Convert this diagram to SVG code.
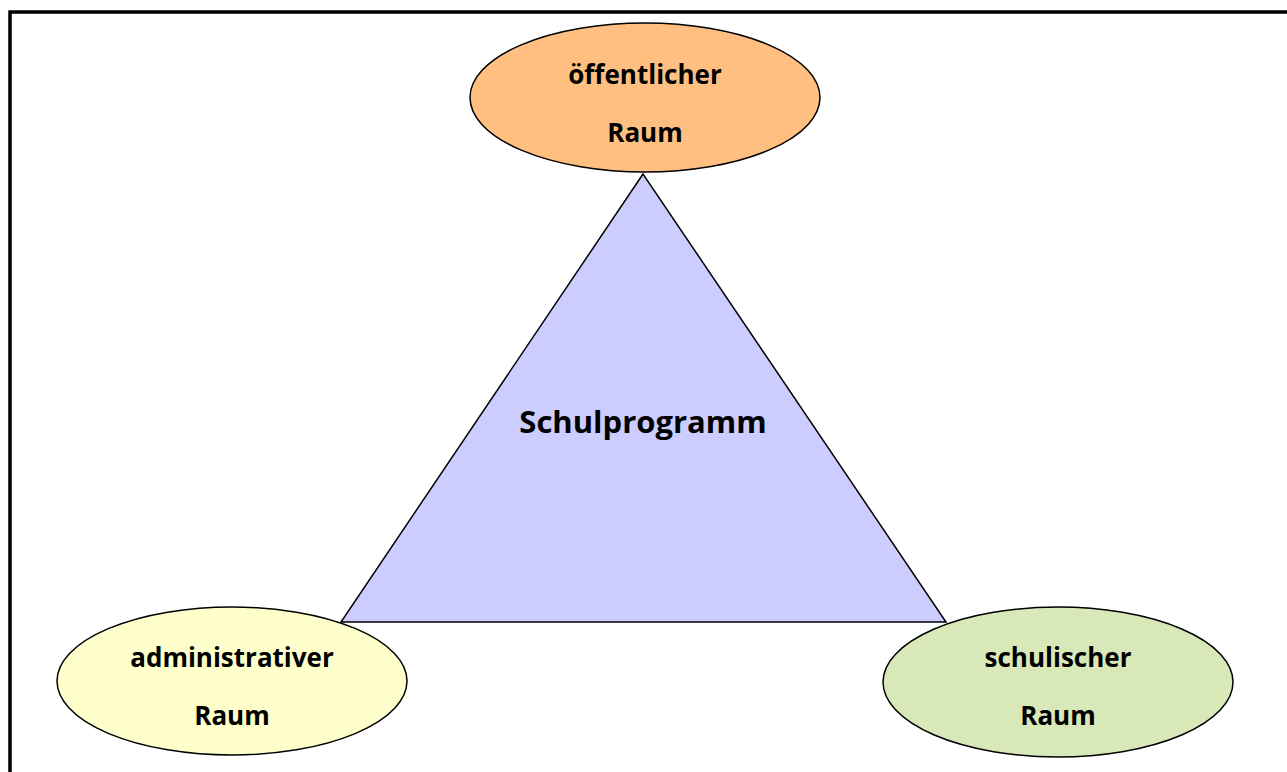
<svg xmlns="http://www.w3.org/2000/svg" width="1287" height="772" viewBox="0 0 1287 772">
<style>
.lbl{font-family:"Open Sans","Liberation Sans",sans-serif;font-weight:bold;font-size:26px;fill:#000;text-anchor:middle}
.big{font-size:31px}
.node{stroke:#000;stroke-width:1.5}
</style>
<rect width="1287" height="772" fill="#fff"/>
<path d="M10,772 V12 H1287" fill="none" stroke="#000" stroke-width="3.5"/>
<g id="connectors"></g>
<g id="schulprogramm">
<polygon points="643,174 341,622 946,622" fill="#CCCCFF" stroke="#000" stroke-width="1.5"/>
<text x="643" y="433" class="lbl big">Schulprogramm</text>
</g>
<g id="oeffentlicher">
<ellipse cx="645" cy="97.5" rx="175" ry="74.5" fill="#FFBF80" class="node"/>
<text x="645" y="84" class="lbl">öffentlicher</text>
<text x="645" y="142" class="lbl">Raum</text>
</g>
<g id="administrativer">
<ellipse cx="232" cy="681" rx="175" ry="74" fill="#FFFFCC" class="node"/>
<text x="232" y="667" class="lbl">administrativer</text>
<text x="232" y="725" class="lbl">Raum</text>
</g>
<g id="schulischer">
<ellipse cx="1058" cy="682" rx="175" ry="75" fill="#D8E8B8" class="node"/>
<text x="1058" y="667" class="lbl">schulischer</text>
<text x="1058" y="725" class="lbl">Raum</text>
</g>
</svg>
